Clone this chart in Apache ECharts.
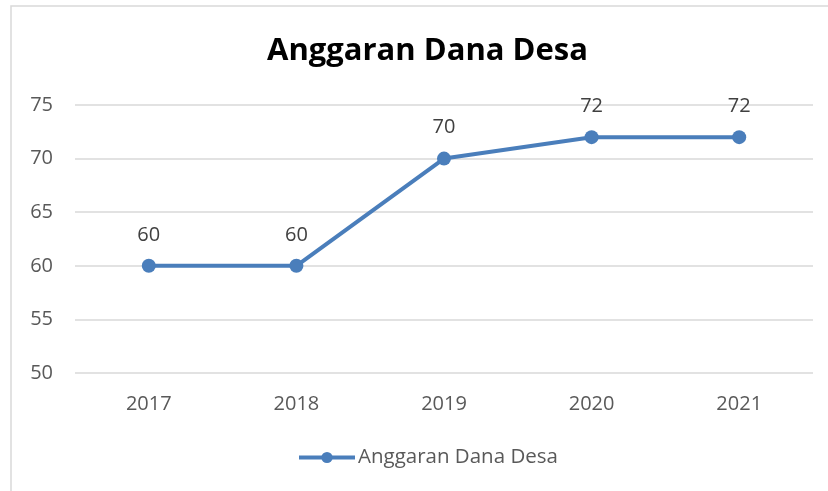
<!DOCTYPE html>
<html>
<head>
<meta charset="utf-8">
<script src="https://cdn.jsdelivr.net/npm/echarts@6/dist/echarts.min.js"></script>
<style>
  html, body { margin: 0; padding: 0; background: #fff; }
  #chart { width: 828px; height: 491px; }
</style>
</head>
<body>
<div id="chart"></div>
<script>
const titleText = 'Anggaran Dana Desa';
const seriesName = 'Anggaran Dana Desa';
const years = ['2017', '2018', '2019', '2020', '2021'];
const values = [60, 60, 70, 72, 72];

const chart = echarts.init(document.getElementById('chart'));
const font = '"Open Sans", sans-serif';

const option = {
  backgroundColor: '#fff',
  textStyle: { fontFamily: font },
  title: {
    text: titleText,
    left: 262,
    top: 31,
    textStyle: { fontSize: 31, fontWeight: 'bold', color: '#000', fontFamily: font }
  },
  graphic: [{
    type: 'rect',
    shape: { x: 11, y: 6, width: 830, height: 500 },
    style: { fill: 'none', stroke: '#d9d9d9', lineWidth: 1.5 },
    silent: true
  }],
  legend: {
    bottom: 18,
    left: 292,
    itemWidth: 56,
    itemHeight: 14,
    itemGap: 0,
    data: [seriesName],
    lineStyle: { width: 4 },
    textStyle: { fontSize: 20.5, color: '#595959', fontFamily: font, padding: [0, 0, 0, -2] }
  },
  grid: { left: 75, right: 15, top: 105, bottom: 118 },
  xAxis: {
    type: 'category',
    data: years,
    axisLine: { show: false },
    axisTick: { show: false },
    axisLabel: { fontSize: 20, color: '#595959', margin: 21 }
  },
  yAxis: {
    type: 'value',
    min: 50,
    max: 75,
    interval: 5,
    axisLine: { show: false },
    axisTick: { show: false },
    axisLabel: { fontSize: 20, color: '#595959', margin: 22 },
    splitLine: { lineStyle: { color: '#d9d9d9', width: 1.5 } }
  },
  series: [{
    name: seriesName,
    type: 'line',
    data: values,
    symbol: 'circle',
    symbolSize: 14,
    itemStyle: { color: '#4a7ebb' },
    lineStyle: { color: '#4a7ebb', width: 4 },
    label: {
      show: true,
      position: 'top',
      distance: 14,
      fontSize: 20,
      color: '#404040'
    }
  }]
};

chart.setOption(option);
</script>
</body>
</html>
